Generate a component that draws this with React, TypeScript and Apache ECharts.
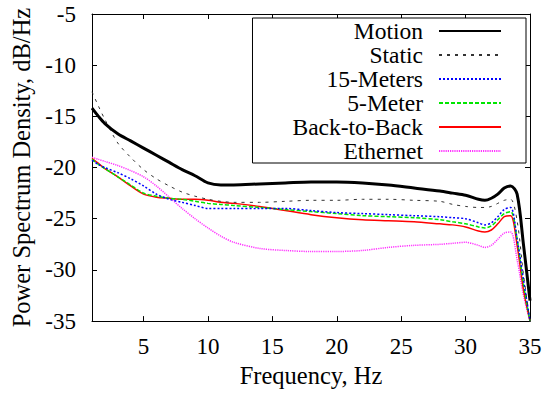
import React, { useEffect, useRef } from "react";
import * as echarts from "echarts";

const freqs = [1, 1.5, 2, 3, 4, 5, 6, 7, 8, 9, 10, 11, 12, 14, 16, 18, 20, 22, 24, 26, 28, 29, 30, 31, 31.5, 32, 32.5, 33, 33.5, 34, 34.5, 35];

const motion = [-14.2, -15.0, -15.7, -16.7, -17.4, -18.1, -18.8, -19.5, -20.2, -20.8, -21.5, -21.7, -21.7, -21.6, -21.5, -21.4, -21.4, -21.5, -21.7, -22.0, -22.3, -22.5, -22.7, -23.1, -23.2, -23.0, -22.6, -22.0, -21.8, -22.6, -27.6, -33.0];
const staticS = [-12.6, -14.0, -15.3, -17.6, -19.0, -20.2, -21.1, -21.8, -22.4, -22.8, -23.1, -23.3, -23.4, -23.4, -23.3, -23.2, -23.2, -23.1, -23.1, -23.2, -23.3, -23.6, -23.8, -23.9, -23.9, -23.8, -23.5, -23.2, -23.1, -25.2, -30.5, -35.0];
const meters15 = [-19.3, -19.7, -20.0, -20.5, -21.1, -21.8, -22.6, -23.1, -23.4, -23.7, -24.0, -24.0, -24.0, -24.0, -24.0, -24.2, -24.4, -24.5, -24.6, -24.7, -24.8, -24.9, -25.0, -25.4, -25.6, -25.4, -24.8, -24.1, -23.9, -27.0, -31.0, -35.0];
const meter5 = [-19.2, -19.7, -20.1, -20.9, -21.7, -22.5, -22.8, -23.0, -23.1, -23.3, -23.5, -23.6, -23.7, -23.9, -24.1, -24.3, -24.5, -24.7, -24.8, -24.9, -25.1, -25.3, -25.5, -25.8, -25.9, -25.7, -25.1, -24.5, -24.3, -27.0, -31.5, -35.0];
const backToBack = [-19.1, -19.6, -20.1, -20.9, -21.8, -22.6, -22.9, -23.0, -23.1, -23.1, -23.2, -23.4, -23.5, -23.8, -24.2, -24.6, -24.9, -25.1, -25.2, -25.3, -25.5, -25.6, -25.8, -26.2, -26.3, -26.1, -25.5, -24.8, -24.7, -27.6, -32.0, -35.0];
const ethernet = [-19.0, -19.2, -19.4, -19.8, -20.3, -20.9, -21.8, -22.9, -24.0, -25.0, -25.9, -26.7, -27.3, -27.9, -28.1, -28.2, -28.2, -28.1, -27.8, -27.6, -27.5, -27.4, -27.3, -27.6, -27.8, -27.6, -27.0, -26.4, -26.3, -29.0, -32.5, -35.0];

const xTickValues = [5, 10, 15, 20, 25, 30, 35];
const seriesNames = ["Motion", "Static", "15-Meters", "5-Meter", "Back-to-Back", "Ethernet"];

const FONT = "Liberation Serif";
const TICK_FS = 23;
const TITLE_FS = 24.5;
const LEGEND_FS = 23.5;

export default function App() {
  const ref = useRef<HTMLDivElement>(null);
  useEffect(() => {
    if (!ref.current) return;
    const chart = echarts.init(ref.current, undefined, { renderer: "svg" });
    const mk = (vals: number[]) => freqs.map((f, i) => [f, vals[i]]);
    const styles = [
      { color: "#000000", width: 3, type: "solid" as any },
      { color: "#333333", width: 1, type: [3, 5] as any },
      { color: "#0000ff", width: 1.5, type: [2, 2] as any },
      { color: "#00e600", width: 1.5, type: [4, 2] as any },
      { color: "#ff0000", width: 1.5, type: "solid" as any },
      { color: "#ff33ff", width: 1.5, type: [1.2, 1] as any },
    ];
    const datas = [motion, staticS, meters15, meter5, backToBack, ethernet];
    const axisCommon = {
      axisLine: { show: true, onZero: false, lineStyle: { color: "#000", width: 1 } },
      axisTick: { show: true, inside: true, length: 5, lineStyle: { color: "#000" } },
      splitLine: { show: false },
    };
    chart.setOption({
      animation: false,
      textStyle: { fontFamily: FONT },
      grid: { left: 92, right: 18, top: 14, bottom: 66, containLabel: false },
      legend: {
        orient: "vertical",
        align: "right",
        right: 22,
        top: 18,
        itemWidth: 62,
        itemHeight: 10,
        itemGap: 0,
        padding: [1, 24, 0, 40],
        borderColor: "#000",
        borderWidth: 1,
        borderRadius: 0,
        backgroundColor: "#fff",
        itemStyle: { opacity: 0 },
        data: seriesNames,
        textStyle: { fontFamily: FONT, fontSize: LEGEND_FS, color: "#000", lineHeight: 24, padding: [0, 11, 0, 0] },
      },
      xAxis: [
        {
          type: "value",
          min: 1,
          max: 35,
          name: "Frequency, Hz",
          nameLocation: "middle",
          nameGap: 38,
          nameTextStyle: { fontFamily: FONT, fontSize: TITLE_FS, color: "#000" },
          ...axisCommon,
          axisTick: { ...axisCommon.axisTick, customValues: xTickValues },
          axisLabel: { customValues: xTickValues, fontFamily: FONT, fontSize: TICK_FS, color: "#000", margin: 14 },
        },
        {
          type: "value",
          min: 1,
          max: 35,
          position: "top",
          ...axisCommon,
          axisTick: { ...axisCommon.axisTick, customValues: xTickValues },
          axisLabel: { show: false },
        },
      ],
      yAxis: [
        {
          type: "value",
          min: -35,
          max: -5,
          interval: 5,
          name: "Power Spectrum Density, dB/Hz",
          nameLocation: "middle",
          nameGap: 52,
          nameTextStyle: { fontFamily: FONT, fontSize: TITLE_FS, color: "#000" },
          ...axisCommon,
          axisLabel: { fontFamily: FONT, fontSize: TICK_FS, color: "#000", margin: 16 },
        },
        {
          type: "value",
          min: -35,
          max: -5,
          interval: 5,
          position: "right",
          ...axisCommon,
          axisLabel: { show: false },
        },
      ],
      series: seriesNames.map((name, i) => ({
        name,
        type: "line",
        data: mk(datas[i]),
        symbol: "none",
        smooth: 0.3,
        color: styles[i].color,
        lineStyle: styles[i],
        z: 10 - i,
      })),
    });
    return () => chart.dispose();
  }, []);
  return <div ref={ref} style={{ width: 548, height: 393, position: "absolute", left: 0, top: 0 }} />;
}
